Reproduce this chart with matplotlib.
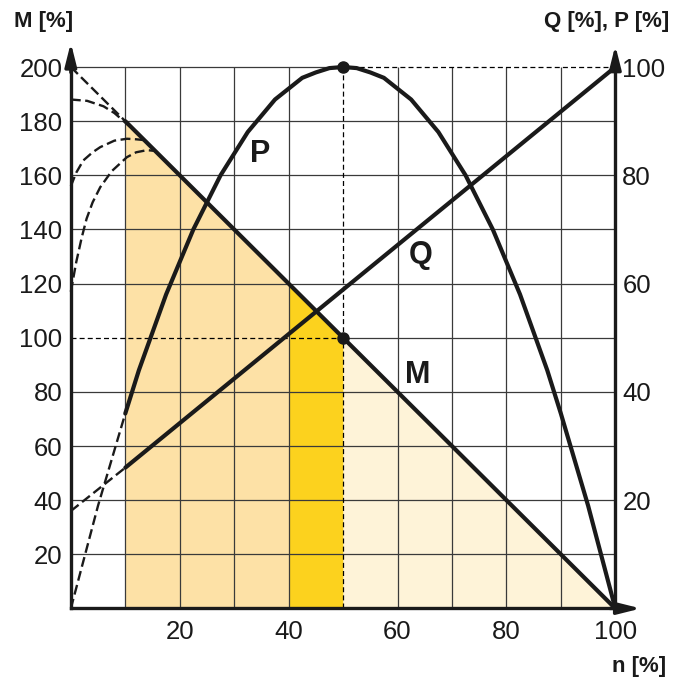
import matplotlib.pyplot as plt

plt.rcParams['font.family'] = ['Liberation Sans', 'DejaVu Sans']

# n [%] and the curves
n_P = [0, 5, 10, 12.5, 15, 17.5, 20, 22.5, 25, 27.5, 30, 32.5, 35, 37.5, 40, 42.5, 45, 47.5, 50,
       52.5, 55, 57.5, 60, 62.5, 65, 67.5, 70, 72.5, 75, 77.5, 80, 82.5, 85, 87.5, 90, 95, 100]
P = [0, 19, 36, 44, 51, 58, 64, 70, 75, 80, 84, 88, 91, 94, 96, 98, 99, 99.8, 100,
     99.8, 99, 98, 96, 94, 91, 88, 84, 80, 75, 70, 64, 58, 51, 44, 36, 19, 0]

n_Q = [0, 10, 100]
Q = [18, 26, 100]

n_M = [0, 10, 100]
M = [200, 180, 0]

# start-up curves (dashed), M [%]
n_A = [0, 3, 6, 8, 10, 12]
M_A = [188, 187.5, 185.5, 183, 179.5, 176]
n_B = [0, 1, 2.3, 4, 5.4, 8, 10.3, 12, 13.5]
M_B = [156, 161, 165.5, 168.5, 170.4, 172.8, 173.5, 173.3, 173]
n_C = [0, 1, 2, 2.9, 4, 5.4, 7.5, 10.3, 12, 14, 15.5]
M_C = [117, 128, 137, 144, 150, 155.6, 161.5, 166.7, 168.5, 169.3, 169]

# shaded zones under M
zone_n = [10, 40, 50, 100]
zone_M = [180, 120, 100, 0]
zone_colors = ['#fde1a6', '#fcd21e', '#fef3d8']

x_ticks = [20, 40, 60, 80, 100]
m_ticks = [20, 40, 60, 80, 100, 120, 140, 160, 180, 200]
qp_ticks = [20, 40, 60, 80, 100]

fig = plt.figure(figsize=(6.83, 6.81), dpi=100)
ax = fig.add_axes([0.1037, 0.1065, 0.7972, 0.7951])
ax.set_xlim(0, 100)
ax.set_ylim(0, 200)
ax2 = ax.twinx()
ax2.set_ylim(0, 100)

for i in range(3):
    ax.fill_between(zone_n[i:i + 2], 0, zone_M[i:i + 2], color=zone_colors[i], lw=0, zorder=1)

# grid
gcol = '#3a3a3a'
ax.vlines([10, 20, 30, 40, 60, 70, 80, 90], 0, 200, color=gcol, lw=0.9, zorder=2)
ax.hlines([20, 40, 60, 80, 120, 140, 160, 180], 0, 100, color=gcol, lw=0.9, zorder=2)
ax.hlines([100], 50, 100, color=gcol, lw=0.9, zorder=2)
ax.hlines([200], 0, 50, color=gcol, lw=0.9, zorder=2, clip_on=False)
ax.vlines([50], 0, 200, color='k', lw=0.9, linestyles=(0, (4, 2.5)), zorder=2)
ax.hlines([100], 0, 50, color='k', lw=0.9, linestyles=(0, (4, 2.5)), zorder=2)
ax.hlines([200], 50, 100, color='k', lw=0.9, linestyles=(0, (4, 2.5)), zorder=2, clip_on=False)

lw_main = 3.0
lw_dash = 1.7
dash = (0, (4.2, 1.9))
ink = '#1a1a1a'

# M
ax.plot(n_M[:2], M[:2], color=ink, lw=lw_dash, ls=dash, zorder=4)
ax.plot(n_M[1:], M[1:], color=ink, lw=lw_main, zorder=5, clip_on=False, solid_capstyle='round')
for nn, mm in [(n_A, M_A), (n_B, M_B), (n_C, M_C)]:
    ax.plot(nn, mm, color=ink, lw=lw_dash, ls=dash, zorder=4, clip_on=False)

# P and Q on the right scale
ax2.plot(n_P[:3], P[:3], color=ink, lw=lw_dash, ls=dash, zorder=4)
ax2.plot(n_P[2:], P[2:], color=ink, lw=lw_main, zorder=5, clip_on=False,
         solid_joinstyle='round', solid_capstyle='round')
ax2.plot(n_Q[:2], Q[:2], color=ink, lw=lw_dash, ls=dash, zorder=4)
ax2.plot(n_Q[1:], Q[1:], color=ink, lw=lw_main, zorder=5, clip_on=False, solid_capstyle='round')

ax.plot([50], [100], 'o', color=ink, ms=8, zorder=6)
ax2.plot([50], [100], 'o', color=ink, ms=8, zorder=6, clip_on=False)

# curve names
ax.text(34.7, 168, 'P', fontsize=22, fontweight='bold', ha='center', va='center', color=ink, zorder=7)
ax.text(64.2, 130.4, 'Q', fontsize=22, fontweight='bold', ha='center', va='center', color=ink, zorder=7)
ax.text(63.7, 86.2, 'M', fontsize=22, fontweight='bold', ha='center', va='center', color=ink, zorder=7)

# axes
ax.spines['top'].set_visible(False)
for s in ax2.spines.values():
    s.set_visible(False)
for s in ['left', 'bottom', 'right']:
    ax.spines[s].set_linewidth(2.4)
    ax.spines[s].set_color(ink)
    ax.spines[s].set_zorder(8)

ax.set_xticks(x_ticks)
ax.set_yticks(m_ticks)
ax2.set_yticks(qp_ticks)
ax.tick_params(axis='x', length=0, pad=8, labelsize=18.5, colors=ink)
ax.tick_params(axis='y', length=0, pad=6, labelsize=18.5, colors=ink)
ax2.tick_params(axis='y', length=0, pad=5, labelsize=18.5, colors=ink)

arrow = dict(arrowstyle='-|>,head_length=1.0,head_width=0.25', lw=2.4, color=ink,
             shrinkA=0, shrinkB=0, mutation_scale=14)
ax.annotate('', xy=(0, 1.045), xytext=(0, 0.99), xycoords='axes fraction', arrowprops=arrow)
ax.annotate('', xy=(1, 1.04), xytext=(1, 0.99), xycoords='axes fraction', arrowprops=arrow)
ax.annotate('', xy=(1.047, 0), xytext=(0.99, 0), xycoords='axes fraction', arrowprops=arrow)

fig.text(14 / 683, 1 - 27 / 681, 'M [%]', fontsize=16, fontweight='bold', ha='left', va='baseline', color=ink)
fig.text(669 / 683, 1 - 27 / 681, 'Q [%], P [%]', fontsize=16, fontweight='bold', ha='right', va='baseline', color=ink)
fig.text(666 / 683, 1 - 672 / 681, 'n [%]', fontsize=16, fontweight='bold', ha='right', va='baseline', color=ink)

fig.savefig('out.png', dpi=100)
